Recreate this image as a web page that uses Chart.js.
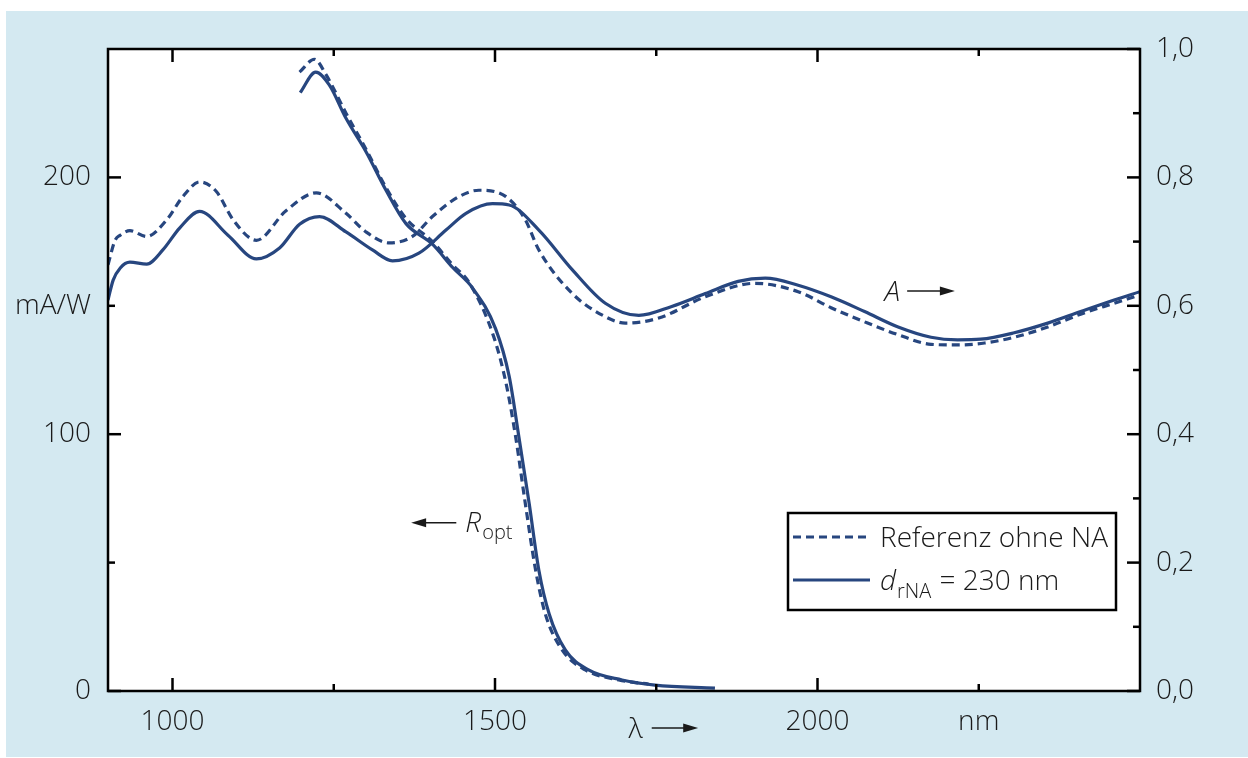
<!DOCTYPE html>
<html>
<head>
<meta charset="utf-8">
<script src="https://cdn.jsdelivr.net/npm/chart.js@4.4.1/dist/chart.umd.min.js"></script>
<style>
  html, body { margin: 0; padding: 0; background: #fff; }
  canvas { display: block; }
</style>
</head>
<body>
<canvas id="chart" width="1248" height="758"></canvas>
<script>
// Optical responsivity R_opt (mA/W) over wavelength (nm)
const rRefNm  = [1197, 1220, 1238, 1269, 1300, 1331, 1362, 1403, 1434, 1460, 1498, 1517, 1532, 1547, 1563, 1578, 1604, 1640, 1692, 1738];
const rRefVal = [241, 246, 240, 225, 211, 196, 184, 175, 166, 159, 138, 120, 99, 73, 47, 30, 16, 8.2, 4.3, 2.7];
const rNaNm   = [1198, 1222, 1243, 1269, 1300, 1331, 1362, 1403, 1434, 1465, 1501, 1522, 1537, 1553, 1568, 1584, 1609, 1645, 1697, 1748, 1841];
const rNaVal  = [233, 241, 236, 223, 210, 195, 182, 174, 165, 157, 141, 122.5, 99, 73, 47, 30, 16, 8.2, 4.3, 2.3, 1.1];

// Absorption A over wavelength (nm)
const aRefNm  = [900, 911, 919, 934, 960, 991, 1016, 1042, 1068, 1094, 1130, 1176, 1223, 1269, 1300, 1336, 1372, 1403, 1444, 1475, 1517, 1547, 1568, 1619, 1671, 1702, 1754, 1826, 1903, 1970, 2021, 2073, 2125, 2176, 2217, 2259, 2305, 2357, 2408, 2460, 2500];
const aRefVal = [0.664, 0.702, 0.710, 0.717, 0.708, 0.734, 0.770, 0.793, 0.778, 0.734, 0.702, 0.748, 0.776, 0.744, 0.715, 0.698, 0.708, 0.739, 0.770, 0.780, 0.770, 0.734, 0.687, 0.620, 0.583, 0.573, 0.581, 0.614, 0.635, 0.622, 0.597, 0.575, 0.555, 0.540, 0.539, 0.542, 0.551, 0.567, 0.587, 0.604, 0.617];
const aNaNm   = [900, 908, 919, 934, 960, 985, 1011, 1042, 1086, 1130, 1166, 1197, 1228, 1269, 1310, 1341, 1382, 1424, 1455, 1496, 1522, 1568, 1620, 1671, 1723, 1774, 1826, 1877, 1919, 1970, 2021, 2073, 2125, 2176, 2217, 2253, 2305, 2357, 2408, 2460, 2500];
const aNaVal  = [0.609, 0.640, 0.659, 0.668, 0.665, 0.687, 0.721, 0.747, 0.710, 0.673, 0.690, 0.727, 0.739, 0.715, 0.687, 0.670, 0.682, 0.718, 0.744, 0.759, 0.757, 0.718, 0.656, 0.604, 0.585, 0.599, 0.619, 0.638, 0.643, 0.632, 0.614, 0.591, 0.567, 0.551, 0.547, 0.548, 0.558, 0.573, 0.591, 0.609, 0.622];

// Axis ticks and labels
const xMajorTicks = [1000, 1500, 2000];
const xMinorTicks = [1250, 1750, 2250];
const xTickLabels = { 1000: '1000', 1500: '1500', 2000: '2000', 2250: 'nm' };
const leftMajorTicks = [0, 100, 200];
const leftMinorTicks = [50, 150];
const leftTickLabels = { 0: '0', 100: '100', 150: 'mA/W', 200: '200' };
const rightMajorTicks = [0, 0.2, 0.4, 0.6, 0.8, 1.0];
const rightMinorTicks = [0.1, 0.3, 0.5, 0.7, 0.9];

// Legend entries
const legendRefLabel = 'Referenz ohne NA';
const legendNaLabel = { main: 'd', sub: 'rNA', rest: ' = 230 nm' };

const LINE = '#27467f';
const INK = '#1a1a1a';
const FONT = "'Open Sans', sans-serif";
const W = '300';
const FS = 28;
const SUB = 20;
const DASH = [8, 5];
const LW = 3.2;

const toPoints = (xs, ys) => xs.map((x, i) => ({ x, y: ys[i] }));
const font = (size, italic) => (italic ? 'italic ' : '') + W + ' ' + size + 'px ' + FONT;

function arrow(ctx, x1, y, x2) {
  // horizontal arrow from x1 to x2, head at x2
  const dir = Math.sign(x2 - x1);
  ctx.beginPath();
  ctx.moveTo(x1, y);
  ctx.lineTo(x2 - dir * 12, y);
  ctx.stroke();
  ctx.beginPath();
  ctx.moveTo(x2, y);
  ctx.lineTo(x2 - dir * 15, y - 4.5);
  ctx.lineTo(x2 - dir * 15, y + 4.5);
  ctx.closePath();
  ctx.fill();
}

const framePlugin = {
  id: 'frame',
  beforeDraw(chart) {
    const { ctx, chartArea: a, width, height } = chart;
    ctx.save();
    ctx.fillStyle = '#ffffff';
    ctx.fillRect(0, 0, width, height);
    ctx.fillStyle = '#d4e9f1';
    ctx.fillRect(6, 11, width - 6, height - 12);
    ctx.fillStyle = '#ffffff';
    ctx.fillRect(a.left, a.top, a.right - a.left, a.bottom - a.top);
    ctx.restore();
  },
  afterDatasetsDraw(chart) {
    const { ctx, chartArea: a, scales } = chart;
    ctx.save();
    ctx.strokeStyle = '#000';
    ctx.fillStyle = '#000';
    ctx.lineWidth = 2.5;
    ctx.strokeRect(a.left, a.top, a.right - a.left, a.bottom - a.top);
    const seg = (x1, y1, x2, y2) => { ctx.beginPath(); ctx.moveTo(x1, y1); ctx.lineTo(x2, y2); ctx.stroke(); };
    const xT = (vals, len) => vals.forEach(v => {
      const x = scales.x.getPixelForValue(v);
      seg(x, a.bottom, x, a.bottom - len);
      seg(x, a.top, x, a.top + len);
    });
    xT(xMajorTicks, 13); xT(xMinorTicks, 7);
    const lT = (vals, len) => vals.forEach(v => {
      const y = scales.yL.getPixelForValue(v);
      seg(a.left, y, a.left + len, y);
    });
    lT(leftMajorTicks, 13); lT(leftMinorTicks, 7);
    const rT = (vals, len) => vals.forEach(v => {
      const y = scales.yR.getPixelForValue(v);
      seg(a.right, y, a.right - len, y);
    });
    rT(rightMajorTicks, 13); rT(rightMinorTicks, 7);

    // curve labels with direction arrows
    ctx.lineWidth = 1.6;
    ctx.fillStyle = INK;
    ctx.strokeStyle = INK;
    const sx = scales.x, sl = scales.yL, sr = scales.yR;
    // R_opt <- left axis
    const ry = sl.getPixelForValue(65.5);
    arrow(ctx, sx.getPixelForValue(1440), ry, sx.getPixelForValue(1370));
    ctx.textBaseline = 'alphabetic';
    ctx.textAlign = 'left';
    ctx.font = font(FS, true);
    const rx = sx.getPixelForValue(1454);
    ctx.fillText('R', rx, ry + 9);
    const rw = ctx.measureText('R').width;
    ctx.font = font(SUB);
    ctx.fillText('opt', rx + rw + 1, ry + 16);
    // A -> right axis
    const ay = sr.getPixelForValue(0.623);
    ctx.font = font(FS, true);
    ctx.fillText('A', sx.getPixelForValue(2104), ay + 10);
    arrow(ctx, sx.getPixelForValue(2139), ay, sx.getPixelForValue(2213));
    // wavelength marker under the x axis
    ctx.font = font(FS);
    ctx.textAlign = 'center';
    ctx.fillText('\u03bb', sx.getPixelForValue(1718), a.bottom + 47);
    arrow(ctx, sx.getPixelForValue(1743), a.bottom + 37, sx.getPixelForValue(1815));

    // legend box
    const lx = a.left + 680, ly = a.top + 464, lw = 328, lh = 97;
    ctx.fillStyle = '#fff';
    ctx.fillRect(lx, ly, lw, lh);
    ctx.strokeStyle = '#000';
    ctx.lineWidth = 2.5;
    ctx.strokeRect(lx, ly, lw, lh);
    ctx.strokeStyle = LINE;
    ctx.lineWidth = LW;
    ctx.setLineDash(DASH);
    seg(lx + 5, ly + 24, lx + 82, ly + 24);
    ctx.setLineDash([]);
    seg(lx + 5, ly + 67, lx + 82, ly + 67);
    ctx.fillStyle = INK;
    ctx.textAlign = 'left';
    ctx.font = font(FS);
    ctx.fillText(legendRefLabel, lx + 92, ly + 34);
    ctx.font = font(FS, true);
    const dx = lx + 92;
    ctx.fillText(legendNaLabel.main, dx, ly + 77);
    const dw = ctx.measureText(legendNaLabel.main).width;
    ctx.font = font(SUB);
    ctx.fillText(legendNaLabel.sub, dx + dw + 1, ly + 85);
    const sw = ctx.measureText(legendNaLabel.sub).width;
    ctx.font = font(FS);
    ctx.fillText(legendNaLabel.rest, dx + dw + sw + 2, ly + 77);
    ctx.restore();
  }
};

const lineStyle = (dashed) => ({
  borderColor: LINE,
  borderWidth: LW,
  borderDash: dashed ? DASH : [],
  pointRadius: 0,
  fill: false,
  cubicInterpolationMode: 'monotone',
  borderCapStyle: 'butt'
});

const tickFont = { family: FONT, size: FS, weight: W };

new Chart(document.getElementById('chart'), {
  type: 'line',
  data: {
    datasets: [
      { label: 'R_opt Referenz ohne NA', data: toPoints(rRefNm, rRefVal), yAxisID: 'yL', ...lineStyle(true) },
      { label: 'R_opt d_rNA = 230 nm', data: toPoints(rNaNm, rNaVal), yAxisID: 'yL', ...lineStyle(false) },
      { label: 'A Referenz ohne NA', data: toPoints(aRefNm, aRefVal), yAxisID: 'yR', ...lineStyle(true) },
      { label: 'A d_rNA = 230 nm', data: toPoints(aNaNm, aNaVal), yAxisID: 'yR', ...lineStyle(false) }
    ]
  },
  options: {
    responsive: false,
    animation: false,
    layout: { padding: { top: 49, left: 0, right: 0, bottom: 0 } },
    plugins: { legend: { display: false }, tooltip: { enabled: false } },
    scales: {
      x: {
        type: 'linear', position: 'bottom', min: 900, max: 2500,
        grid: { display: false, drawTicks: false }, border: { display: false },
        afterBuildTicks: s => { s.ticks = [...xMajorTicks, ...xMinorTicks].sort((p, q) => p - q).map(v => ({ value: v })); },
        afterFit: s => { s.height = 67; },
        ticks: {
          autoSkip: false, maxRotation: 0, padding: 14, color: INK,
          font: tickFont,
          callback: v => xTickLabels[v] || ''
        }
      },
      yL: {
        type: 'linear', position: 'left', min: 0, max: 250,
        grid: { display: false, drawTicks: false }, border: { display: false },
        afterBuildTicks: s => { s.ticks = [0, 50, 100, 150, 200, 250].map(v => ({ value: v })); },
        afterFit: s => { s.width = 108; },
        ticks: {
          autoSkip: false, padding: 17, color: INK,
          font: tickFont,
          callback: v => leftTickLabels[v] || ''
        }
      },
      yR: {
        type: 'linear', position: 'right', min: 0, max: 1,
        grid: { display: false, drawTicks: false }, border: { display: false },
        afterBuildTicks: s => { s.ticks = rightMajorTicks.map(v => ({ value: v })); },
        afterFit: s => { s.width = 108; },
        ticks: {
          autoSkip: false, padding: 16, color: INK,
          font: tickFont,
          callback: v => v.toFixed(1).replace('.', ',')
        }
      }
    }
  },
  plugins: [framePlugin]
});
</script>
</body>
</html>
